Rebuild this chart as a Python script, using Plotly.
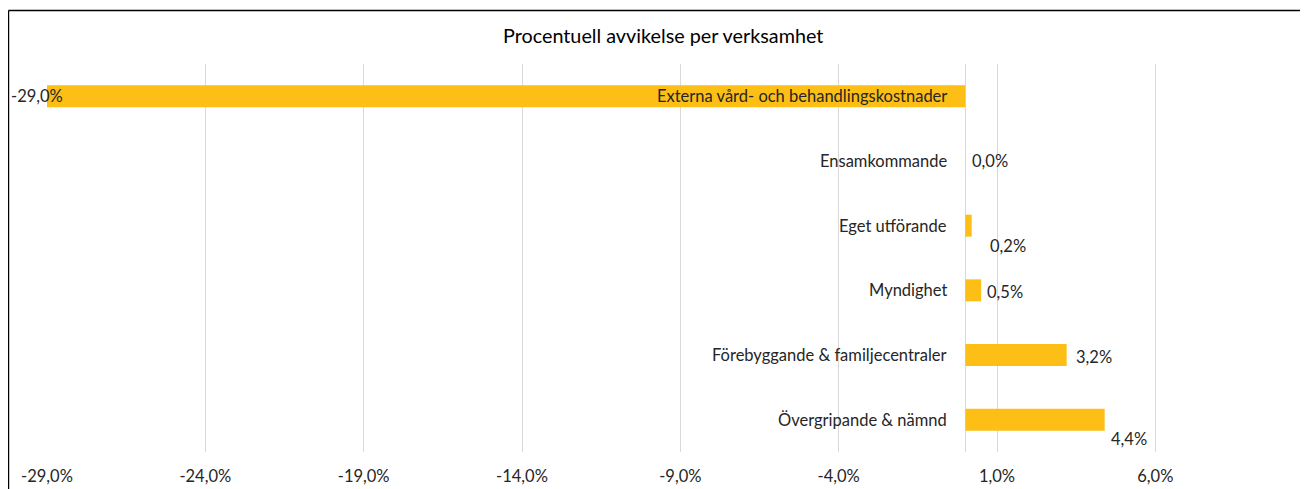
import plotly.graph_objects as go

categories = ["Externa vård- och behandlingskostnader", "Ensamkommande", "Eget utförande",
              "Myndighet", "Förebyggande & familjecentraler", "Övergripande & nämnd"]
values = [-29.0, 0.0, 0.2, 0.5, 3.2, 4.4]
tick_vals = [-29, -24, -19, -14, -9, -4, 1, 6]
tick_text = ["-29,0%", "-24,0%", "-19,0%", "-14,0%", "-9,0%", "-4,0%", "1,0%", "6,0%"]
label_text = ["-29,0%", "0,0%", "0,2%", "0,5%", "3,2%", "4,4%"]
# label offsets in pixels (style)
label_dx = [-10, 25, 36, 24, 27, 24]
label_dy = [0, 0, -20, -2, -2, -19]

FONT = "Lato"
TXT = "#262626"
BAR = "#FDBF15"
FS = 16.5

fig = go.Figure()
fig.add_trace(go.Bar(
    y=categories, x=values, orientation="h",
    marker=dict(color=BAR, line=dict(width=0)),
    width=0.34, hoverinfo="skip",
))

annotations = []
for c in categories:
    annotations.append(dict(x=0, y=c, xref="x", yref="y", text=c, showarrow=False,
                            xanchor="right", yanchor="middle", xshift=-16,
                            font=dict(family=FONT, size=FS, color=TXT)))
for c, v, t, dx, dy in zip(categories, values, label_text, label_dx, label_dy):
    annotations.append(dict(x=v, y=c, xref="x", yref="y", text=t, showarrow=False,
                            xanchor="center", yanchor="middle", xshift=dx, yshift=dy,
                            font=dict(family=FONT, size=FS, color=TXT)))

fig.update_layout(
    width=1300, height=481,
    margin=dict(l=39, r=26, t=56, b=37, autoexpand=False),
    paper_bgcolor="white", plot_bgcolor="white",
    showlegend=False,
    title=dict(text="Procentuell avvikelse per verksamhet", x=0.504, xanchor="center",
               y=1 - 28 / 481, yanchor="middle", yref="container",
               font=dict(family=FONT, size=19.8, color="#000000")),
    xaxis=dict(range=[-29, 10], tickvals=tick_vals, ticktext=tick_text,
               showgrid=True, gridcolor="#D9D9D9", gridwidth=1,
               zeroline=True, zerolinecolor="#D9D9D9", zerolinewidth=1,
               showline=False, ticks="", ticklabelstandoff=12, automargin=False,
               tickfont=dict(family=FONT, size=FS, color=TXT), fixedrange=True),
    yaxis=dict(autorange="reversed", showticklabels=False, showgrid=False,
               zeroline=False, showline=False, ticks="", automargin=False),
    annotations=annotations,
    shapes=[
        dict(type="line", xref="paper", yref="paper", x0=-0.0312, x1=-0.0312,
             y0=1.1379, y1=-0.2, line=dict(color="black", width=1.5)),
        dict(type="line", xref="paper", yref="paper", x0=-0.0312, x1=1.1,
             y0=1.1379, y1=1.1379, line=dict(color="black", width=1.5)),
    ],
)

fig.write_html("out.html")
